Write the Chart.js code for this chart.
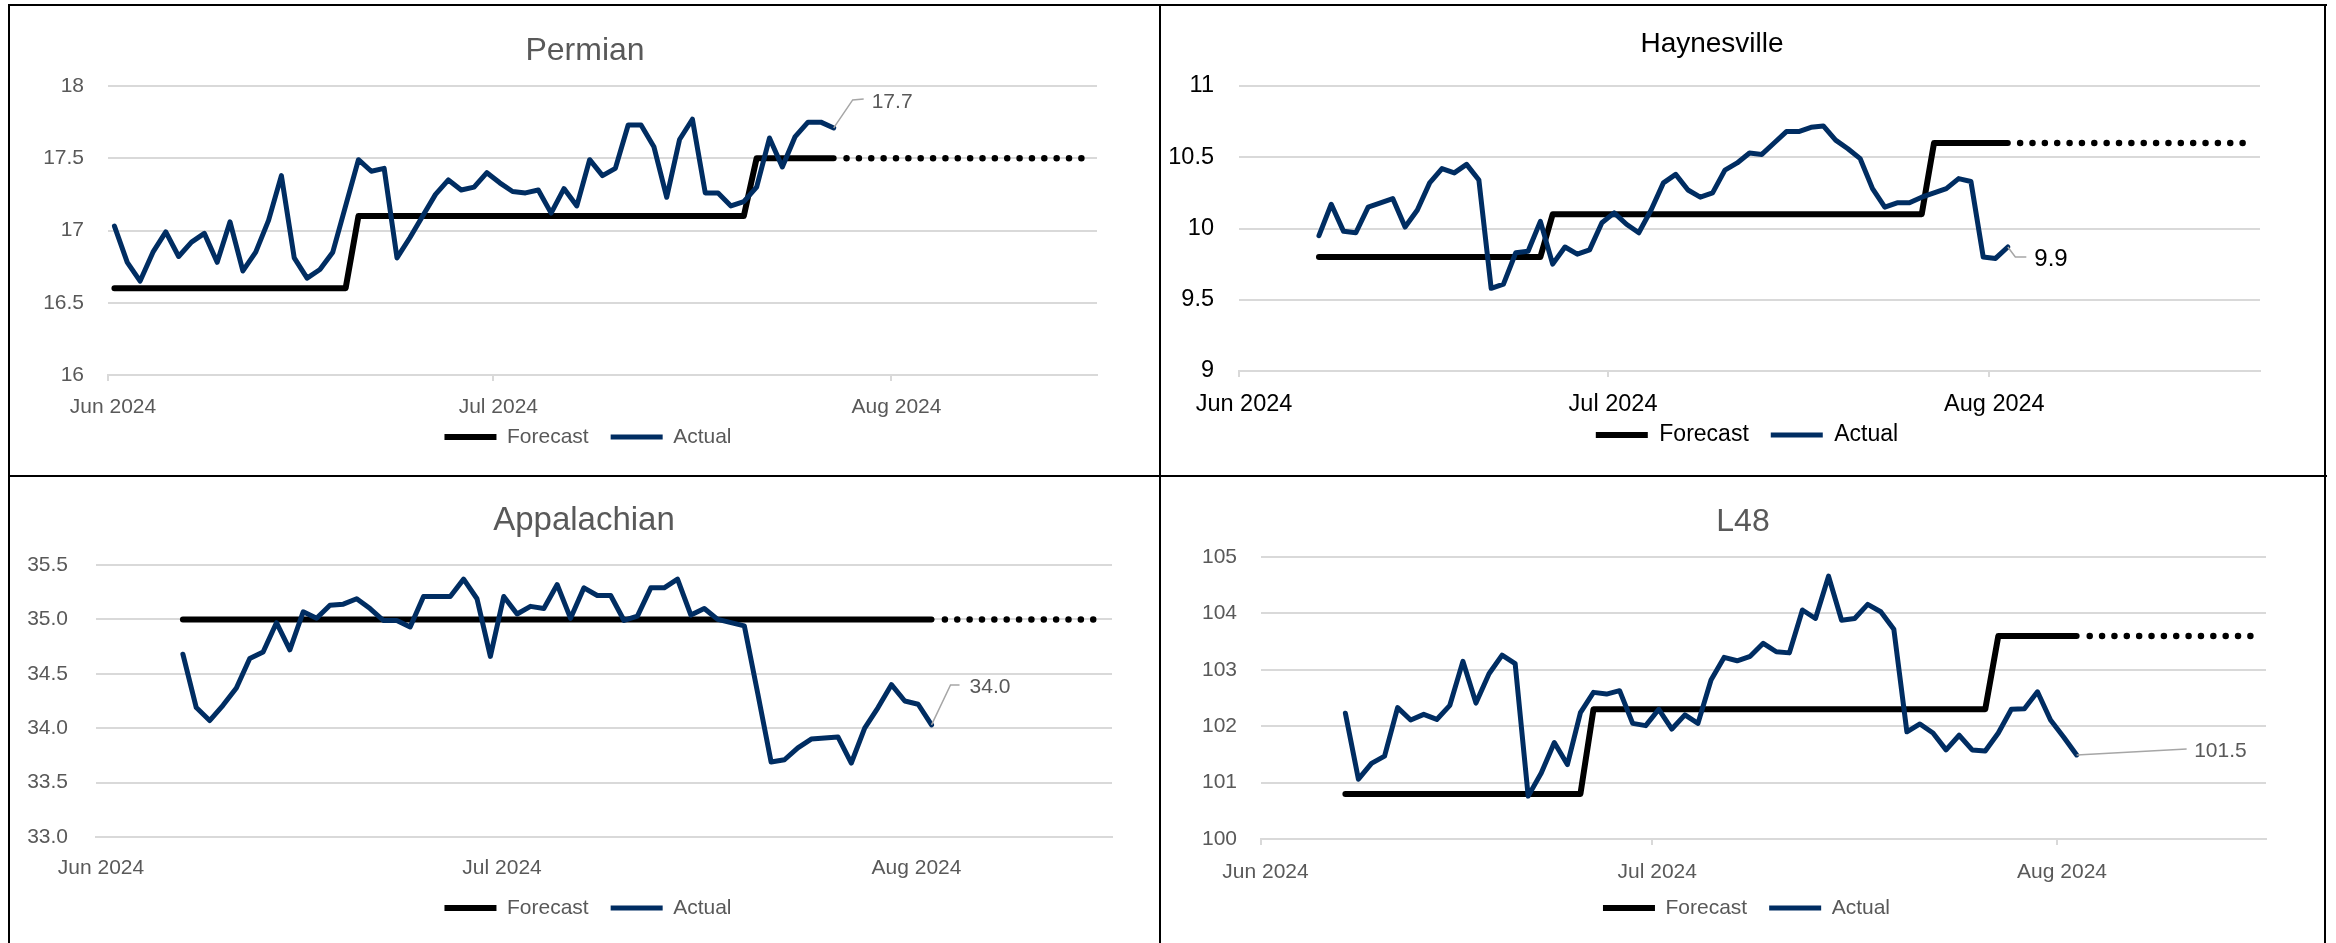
<!DOCTYPE html>
<html>
<head>
<meta charset="utf-8">
<title>Production: forecast vs actual</title>
<script src="https://cdn.jsdelivr.net/npm/chart.js@4.4.1/dist/chart.umd.min.js"></script>
<style>
  html, body { margin: 0; padding: 0; background: #fff; }
  body { width: 2336px; height: 943px; position: relative; overflow: hidden; }
  .cell { position: absolute; }
  .rule { position: absolute; background: #000; }
</style>
</head>
<body>
<div class="rule" style="left:8px; top:4px; width:2319px; height:2px"></div>
<div class="rule" style="left:8px; top:4px; width:2px; height:939px"></div>
<div class="rule" style="left:2324px; top:4px; width:2px; height:939px"></div>
<div class="rule" style="left:1159px; top:4px; width:2px; height:939px"></div>
<div class="rule" style="left:8px; top:475px; width:2319px; height:2px"></div>

<div class="cell" style="left:11px; top:7px; width:1148px; height:468px"><canvas id="permian"></canvas></div>
<div class="cell" style="left:1162px; top:7px; width:1162px; height:468px"><canvas id="haynesville"></canvas></div>
<div class="cell" style="left:11px; top:478px; width:1148px; height:465px"><canvas id="appalachian"></canvas></div>
<div class="cell" style="left:1162px; top:478px; width:1162px; height:465px"><canvas id="l48"></canvas></div>

<script>
// x axis: days counted from 1 Jun 2024
const tickDays = [0, 30, 61];
const tickLabels = ['Jun 2024', 'Jul 2024', 'Aug 2024'];

// Permian (daily, from 1 Jun)
const permianStart = 0;
const permianActual = [17.03, 16.78, 16.65, 16.85, 16.99, 16.82, 16.92, 16.98, 16.78, 17.06,
  16.72, 16.85, 17.07, 17.38, 16.81, 16.67, 16.73, 16.85, 17.17, 17.49,
  17.41, 17.43, 16.81, 16.95, 17.10, 17.25, 17.35, 17.28, 17.30, 17.40,
  17.33, 17.27, 17.26, 17.28, 17.12, 17.29, 17.17, 17.49, 17.38, 17.43,
  17.73, 17.73, 17.58, 17.23, 17.63, 17.77, 17.26, 17.26, 17.17, 17.20,
  17.30, 17.64, 17.44, 17.65, 17.75, 17.75, 17.71];
const permianForecastLevels = [16.6, 17.1, 17.5];
const permianForecastDays = [19, 31, 7];

// Haynesville (daily, from 7 Jun)
const haynesvilleStart = 6;
const haynesvilleActual = [9.95, 10.17, 9.98, 9.97, 10.15, 10.18, 10.21, 10.01, 10.13, 10.32,
  10.42, 10.39, 10.45, 10.34, 9.58, 9.61, 9.83, 9.84, 10.05, 9.75,
  9.87, 9.82, 9.85, 10.04, 10.11, 10.03, 9.97, 10.13, 10.32, 10.38,
  10.27, 10.22, 10.25, 10.41, 10.46, 10.53, 10.52, 10.60, 10.68, 10.68,
  10.71, 10.72, 10.62, 10.56, 10.49, 10.28, 10.15, 10.18, 10.18, 10.22,
  10.25, 10.28, 10.35, 10.33, 9.80, 9.79, 9.87];
const haynesvilleForecastLevels = [9.8, 10.1, 10.6];
const haynesvilleForecastDays = [19, 31, 7];

// Appalachian (daily, from 7 Jun)
const appalachianStart = 6;
const appalachianActual = [34.68, 34.19, 34.07, 34.21, 34.37, 34.64, 34.70, 34.97, 34.72, 35.07,
  35.01, 35.13, 35.14, 35.19, 35.10, 34.99, 34.99, 34.93, 35.21, 35.21,
  35.21, 35.37, 35.19, 34.66, 35.21, 35.05, 35.12, 35.10, 35.32, 35.01,
  35.29, 35.22, 35.22, 34.99, 35.03, 35.29, 35.29, 35.37, 35.04, 35.10,
  35.00, 34.97, 34.94, 34.32, 33.69, 33.71, 33.82, 33.90, 33.91, 33.92,
  33.68, 34.00, 34.19, 34.40, 34.25, 34.22, 34.03];
const appalachianForecastLevels = [35.0];
const appalachianForecastDays = [57];

// L48 (daily, from 7 Jun)
const l48Start = 6;
const l48Actual = [102.23, 101.06, 101.34, 101.47, 102.33, 102.11, 102.21, 102.12, 102.37, 103.15,
  102.41, 102.93, 103.26, 103.11, 100.76, 101.17, 101.71, 101.32, 102.24, 102.60,
  102.57, 102.63, 102.05, 102.01, 102.30, 101.95, 102.20, 102.05, 102.82, 103.22,
  103.16, 103.24, 103.47, 103.32, 103.30, 104.06, 103.91, 104.66, 103.88, 103.91,
  104.16, 104.03, 103.72, 101.90, 102.04, 101.88, 101.58, 101.84, 101.58, 101.56,
  101.88, 102.30, 102.31, 102.61, 102.11, 101.81, 101.49];
const l48ForecastLevels = [100.8, 102.3, 103.6];
const l48ForecastDays = [19, 31, 7];

const FONT = '"Liberation Sans", Arial, sans-serif';
const NAVY = '#002D62';
const GRID = '#D9D9D9';
Chart.defaults.font.family = FONT;

function series(start, values) {
  return values.map((v, i) => ({ x: start + i + 0.5, y: v }));
}

function steps(levels, days) {
  const out = [];
  levels.forEach((lv, k) => { for (let j = 0; j < days[k]; j++) out.push(lv); });
  return out;
}

// labels may spill outside the fixed axis box
function noLabelClip(s) { s._computeLabelArea = () => undefined; }

// title drawn at a fixed spot, like the manually placed Excel titles
const panelTitle = {
  id: 'panelTitle',
  afterDraw(chart, args, o) {
    const ctx = chart.ctx;
    ctx.save();
    ctx.font = o.size + 'px ' + FONT;
    ctx.fillStyle = o.color;
    ctx.textAlign = 'center';
    ctx.textBaseline = 'middle';
    ctx.fillText(o.text, o.x, o.y);
    ctx.restore();
  }
};

// value label with leader line on the last Actual point
const lastLabel = {
  id: 'lastLabel',
  afterDatasetsDraw(chart, args, o) {
    const meta = chart.getDatasetMeta(1);
    const pt = meta.data[meta.data.length - 1];
    const ds = chart.data.datasets[1].data;
    const v = ds[ds.length - 1].y;
    const ctx = chart.ctx;
    ctx.save();
    ctx.strokeStyle = '#A6A6A6';
    ctx.lineWidth = 1.5;
    ctx.beginPath();
    ctx.moveTo(pt.x, pt.y);
    o.leader.forEach(([dx, dy]) => ctx.lineTo(pt.x + dx, pt.y + dy));
    ctx.stroke();
    ctx.font = o.size + 'px ' + FONT;
    ctx.fillStyle = o.color;
    ctx.textAlign = 'left';
    ctx.textBaseline = 'middle';
    ctx.fillText(v.toFixed(1), pt.x + o.text[0], pt.y + o.text[1]);
    ctx.restore();
  }
};

function makeChart(p) {
  const fs = p.fontSize;
  const lfs = p.legendSize;
  const lh = fs * 1.2;
  const legendPad = 22;
  const padL = 2 * p.legendX - p.plotR;
  const padR = p.width - p.plotR;
  const yW = p.plotL - padL;
  const xH = p.legendGap - legendPad - lfs / 2;
  const legendH = lfs + legendPad + 10;
  const padB = p.height - p.plotB - xH - legendH;
  const labelPad = p.labelGap - p.tickLen - lh / 2;

  const forecast = steps(p.fLevels, p.fDays);
  const lastLevel = p.fLevels[p.fLevels.length - 1];
  const projection = [];
  for (let d = p.start + p.actual.length; d < p.axisMax; d++) projection.push({ x: d + 0.5, y: lastLevel });

  new Chart(document.getElementById(p.id), {
    type: 'line',
    data: {
      datasets: [
        { label: 'Forecast', data: series(p.start, forecast), borderColor: '#000', backgroundColor: '#000',
          borderWidth: 6, pointRadius: 0, borderCapStyle: 'round', borderJoinStyle: 'round', order: 1 },
        { label: 'Actual', data: series(p.start, p.actual), borderColor: NAVY, backgroundColor: NAVY,
          borderWidth: 5, pointRadius: 0, borderCapStyle: 'round', borderJoinStyle: 'round', order: 0 },
        { label: 'Projection', data: projection, borderColor: '#000', borderWidth: 6.5, pointRadius: 0,
          borderDash: [0.01, 12.35], borderCapStyle: 'round', order: 2 }
      ]
    },
    options: {
      responsive: true,
      maintainAspectRatio: false,
      animation: false,
      layout: { padding: { left: padL, right: padR, top: p.plotT, bottom: padB } },
      scales: {
        x: {
          type: 'linear', min: 0, max: p.axisMax,
          afterBuildTicks: s => { s.ticks = tickDays.map(v => ({ value: v })); },
          afterFit: s => { s.height = xH; noLabelClip(s); },
          ticks: {
            padding: labelPad, labelOffset: 5, color: p.textColor, font: { size: fs },
            maxRotation: 0, autoSkip: false,
            callback: v => { const i = tickDays.indexOf(v); return i >= 0 ? tickLabels[i] : ''; }
          },
          grid: { drawOnChartArea: false, drawTicks: p.tickLen > 0, tickLength: p.tickLen, color: GRID, lineWidth: 2 },
          border: { display: true, color: GRID, width: 2 }
        },
        y: {
          min: p.yMin, max: p.yMax,
          afterFit: s => { s.width = yW; noLabelClip(s); },
          ticks: {
            stepSize: p.yStep, padding: p.yPad, color: p.textColor, font: { size: fs },
            callback: v => p.yDecimals == null ? String(+v.toFixed(2)) : v.toFixed(p.yDecimals)
          },
          grid: { color: GRID, lineWidth: 2, drawTicks: false },
          border: { display: false }
        }
      },
      plugins: {
        legend: {
          position: 'bottom',
          labels: {
            usePointStyle: true, pointStyle: 'line', pointStyleWidth: 52,
            padding: legendPad, color: p.textColor, font: { size: lfs },
            filter: item => item.datasetIndex < 2,
            sort: (a, b) => a.datasetIndex - b.datasetIndex
          }
        },
        tooltip: { enabled: false },
        panelTitle: { text: p.title, x: p.titleX, y: p.titleY, size: p.titleSize, color: p.textColor },
        lastLabel: { leader: p.leader, text: p.labelAt, size: p.labelSize, color: p.textColor }
      }
    },
    plugins: [panelTitle, lastLabel]
  });
}

makeChart({
  id: 'permian', title: 'Permian', actual: permianActual, start: permianStart,
  fLevels: permianForecastLevels, fDays: permianForecastDays, axisMax: 77,
  yMin: 16, yMax: 18, yStep: 0.5, yDecimals: null,
  width: 1148, height: 468, plotL: 97, plotR: 1086, plotT: 79, plotB: 368,
  legendX: 577, yPad: 24, labelGap: 32, legendGap: 62, tickLen: 6, fontSize: 21, legendSize: 21,
  textColor: '#595959', titleX: 574, titleY: 44, titleSize: 32,
  leader: [[19, -28], [30, -29]], labelAt: [38, -26], labelSize: 21
});

makeChart({
  id: 'haynesville', title: 'Haynesville', actual: haynesvilleActual, start: haynesvilleStart,
  fLevels: haynesvilleForecastLevels, fDays: haynesvilleForecastDays, axisMax: 83,
  yMin: 9, yMax: 11, yStep: 0.5, yDecimals: null,
  width: 1162, height: 468, plotL: 77, plotR: 1098, plotT: 79, plotB: 364,
  legendX: 585, yPad: 25, labelGap: 34, legendGap: 64, tickLen: 6, fontSize: 23.5, legendSize: 23,
  textColor: '#000', titleX: 550, titleY: 37, titleSize: 28,
  leader: [[7.5, 10], [18.5, 10]], labelAt: [26.5, 12], labelSize: 24
});

makeChart({
  id: 'appalachian', title: 'Appalachian', actual: appalachianActual, start: appalachianStart,
  fLevels: appalachianForecastLevels, fDays: appalachianForecastDays, axisMax: 76,
  yMin: 33, yMax: 35.5, yStep: 0.5, yDecimals: 1,
  width: 1148, height: 465, plotL: 85, plotR: 1101, plotT: 87, plotB: 359,
  legendX: 577, yPad: 28, labelGap: 31, legendGap: 71, tickLen: 0, fontSize: 21, legendSize: 21,
  textColor: '#595959', titleX: 573, titleY: 43, titleSize: 33,
  leader: [[19, -40], [28, -40]], labelAt: [38, -38], labelSize: 21
});

makeChart({
  id: 'l48', title: 'L48', actual: l48Actual, start: l48Start,
  fLevels: l48ForecastLevels, fDays: l48ForecastDays, axisMax: 77,
  yMin: 100, yMax: 105, yStep: 1, yDecimals: 0,
  width: 1162, height: 465, plotL: 98.5, plotR: 1104, plotT: 79, plotB: 361,
  legendX: 584.5, yPad: 23.5, labelGap: 33, legendGap: 69, tickLen: 6, fontSize: 21, legendSize: 21,
  textColor: '#595959', titleX: 581, titleY: 44, titleSize: 32,
  leader: [[110, -6]], labelAt: [117.5, -4], labelSize: 21
});
</script>
</body>
</html>
